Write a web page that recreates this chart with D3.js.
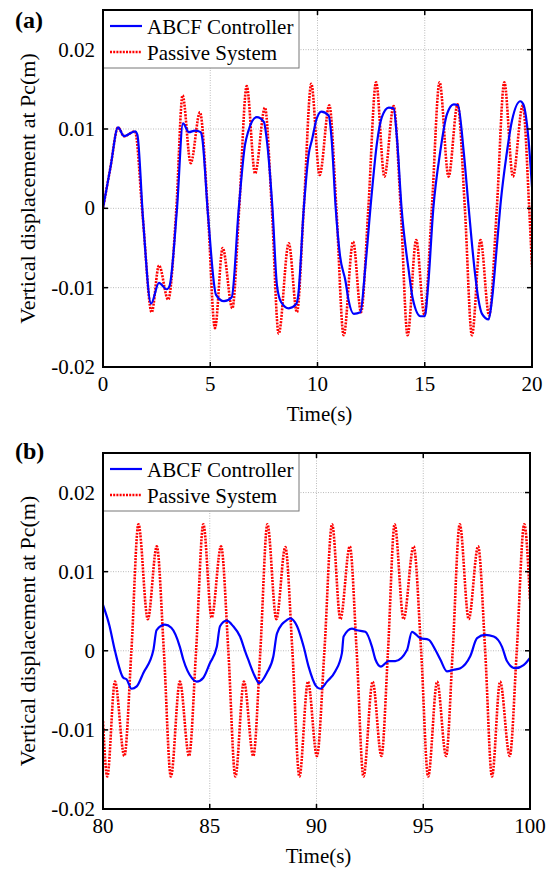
<!DOCTYPE html>
<html>
<head>
<meta charset="utf-8">
<script src="https://cdn.jsdelivr.net/npm/d3@7"></script>
<style>
  body { margin: 0; background: #fff; }
  svg { display: block; }
</style>
</head>
<body>
<svg id="chart"></svg>
<script>
// Values: [time (s), displacement (m)]
const passiveA = [
  [0, 0], [0.35, 0.0052], [0.7, 0.0102], [0.98, 0.0091], [1.49, 0.0097], [1.85, -0.001],
  [2.27, -0.0131], [2.61, -0.0072], [3.04, -0.0115], [3.42, 0], [3.71, 0.01425], [4.09, 0.0057],
  [4.52, 0.0121], [4.88, 0], [5.22, -0.0151], [5.58, -0.005], [6.03, -0.0126], [6.35, 0],
  [6.7, 0.0154], [7.09, 0.0044], [7.55, 0.0127], [7.87, 0], [8.19, -0.0158], [8.66, -0.0044],
  [9.04, -0.0131], [9.36, 0], [9.71, 0.0157], [10.1, 0.0042], [10.55, 0.013], [10.88, 0],
  [11.22, -0.016], [11.66, -0.0042], [12.03, -0.0131], [12.37, 0], [12.73, 0.0159], [13.12, 0.004],
  [13.55, 0.0129], [13.88, 0], [14.2, -0.016], [14.6, -0.004], [14.98, -0.0134], [15.33, 0],
  [15.69, 0.0159], [16.11, 0.004], [16.53, 0.0131], [16.87, 0], [17.2, -0.016], [17.6, -0.004],
  [18.0, -0.0135], [18.36, 0], [18.71, 0.0159], [19.11, 0.004], [19.57, 0.013], [19.87, 0],
  [20, -0.0074]
];

const abcfA = [
  [0, 0], [0.35, 0.0052], [0.7, 0.0102], [0.98, 0.0091], [1.49, 0.0097], [1.6, 0.0093],
  [1.87, -0.0015], [2.24, -0.012], [2.61, -0.0094], [2.97, -0.0102], [3.1, -0.0098], [3.45, 0],
  [3.73, 0.0107], [4.0, 0.0096], [4.3, 0.0098], [4.55, 0.0096], [4.62, 0.009], [4.9, -0.001],
  [5.27, -0.0109], [5.64, -0.0117], [6.0, -0.0112], [6.33, 0], [6.62, 0.008], [6.76, 0.0096],
  [7.17, 0.0115], [7.5, 0.0109], [7.62, 0.009], [7.9, 0], [8.11, -0.0097], [8.3, -0.0118],
  [8.66, -0.0126], [9.0, -0.0121], [9.1, -0.011], [9.36, 0], [9.6, 0.007], [9.74, 0.0086],
  [9.95, 0.0112], [10.18, 0.0122], [10.52, 0.0117], [10.65, 0.009], [10.85, 0], [11.05, -0.006],
  [11.3, -0.0091], [11.45, -0.0116], [11.69, -0.0133], [12.0, -0.0131], [12.23, -0.0074], [12.5, 0.001],
  [12.77, 0.0082], [13.0, 0.0115], [13.32, 0.0127], [13.55, 0.0126], [13.7, 0.009], [13.92, 0],
  [14.25, -0.0078], [14.45, -0.0115], [14.8, -0.0136], [15.0, -0.0136], [15.15, -0.01], [15.4, 0],
  [15.72, 0.0071], [16.04, 0.0119], [16.35, 0.0131], [16.55, 0.013], [16.81, 0.0073], [17.05, 0],
  [17.31, -0.0074], [17.51, -0.0116], [17.67, -0.0133], [17.98, -0.014], [18.13, -0.0116], [18.37, -0.0045],
  [18.55, 0.001], [18.8, 0.0065], [19.07, 0.0111], [19.46, 0.0135], [19.6, 0.0131], [19.84, 0.0086],
  [20, 0.0027]
];

const passiveB = [
  [80, -0.0089], [80.2, -0.0159], [80.56, -0.0039], [81.0, -0.0133], [81.33, 0], [81.66, 0.016],
  [82.1, 0.004], [82.52, 0.0132], [82.85, 0], [83.18, -0.0159], [83.6, -0.0039], [84.03, -0.0133],
  [84.36, 0], [84.7, 0.016], [85.09, 0.0042], [85.53, 0.0132], [85.87, 0], [86.2, -0.0159],
  [86.6, -0.0039], [87.04, -0.0133], [87.37, 0], [87.7, 0.016], [88.12, 0.004], [88.54, 0.0131],
  [88.87, 0], [89.2, -0.0159], [89.6, -0.0039], [90.02, -0.0133], [90.37, 0], [90.73, 0.016],
  [91.12, 0.004], [91.56, 0.0132], [91.88, 0], [92.2, -0.0159], [92.63, -0.0039], [93.04, -0.0133],
  [93.35, 0], [93.66, 0.016], [94.08, 0.004], [94.55, 0.0132], [94.9, 0], [95.23, -0.0159],
  [95.65, -0.0039], [96.07, -0.0133], [96.38, 0], [96.71, 0.016], [97.13, 0.004], [97.57, 0.0132],
  [97.9, 0], [98.22, -0.0159], [98.6, -0.0039], [99.05, -0.0133], [99.38, 0], [99.73, 0.016],
  [100, 0.0064]
];

const abcfB = [
  [80, 0.0058], [80.3, 0.0032], [80.56, 0], [80.95, -0.0034], [81.1, -0.0036], [81.34, -0.0048],
  [81.58, -0.0045], [81.89, -0.0028], [82.36, 0.0001], [82.51, 0.0026], [82.9, 0.0033], [83.2, 0.0029],
  [83.6, 0.0005], [83.76, -0.0011], [84.15, -0.0034], [84.39, -0.0039], [84.7, -0.0034], [85.0, -0.0016],
  [85.33, 0.0005], [85.48, 0.0031], [85.79, 0.0038], [86.1, 0.0031], [86.42, 0.0018], [86.65, 0],
  [86.8, -0.0011], [87.2, -0.0037], [87.3, -0.0041], [87.67, -0.0028], [87.98, -0.0007], [88.15, 0.0022],
  [88.62, 0.0039], [88.77, 0.0041], [89.09, 0.0031], [89.4, 0.0005], [89.63, -0.002], [89.99, -0.0045],
  [90.18, -0.0048], [90.49, -0.0039], [90.88, -0.0026], [91.19, -0.0003], [91.27, 0.0018], [91.66, 0.0028],
  [91.9, 0.0026], [92.29, 0.0024], [92.6, 0.0005], [92.76, -0.0011], [93.02, -0.002], [93.38, -0.0013],
  [93.69, -0.0013], [94.24, 0.0001], [94.47, 0.0024], [94.86, 0.0016], [95.25, 0.0014], [95.57, 0.0001],
  [95.8, -0.0011], [96.11, -0.0026], [96.43, -0.0024], [96.74, -0.0022], [97.2, -0.0007], [97.52, 0.0016],
  [97.9, 0.002], [98.3, 0.0018], [98.69, 0.0005], [98.92, -0.0013], [99.31, -0.0022], [99.7, -0.0018],
  [100, -0.0009]
];

const xTicksA = [0, 5, 10, 15, 20];
const xTicksB = [80, 85, 90, 95, 100];
const yTicks = [-0.02, -0.01, 0, 0.01, 0.02];
const legendLabels = ["ABCF Controller", "Passive System"];

const width = 554, height = 870;
const font = "'Liberation Serif', 'Times New Roman', serif";

const svg = d3.select("#chart")
  .attr("width", width)
  .attr("height", height)
  .style("font-family", font);

svg.append("rect").attr("width", width).attr("height", height).attr("fill", "#fff");

function drawPanel(p) {
  const x = d3.scaleLinear().domain(p.xDomain).range([p.left, p.right]);
  const y = d3.scaleLinear().domain([-0.02, 0.025]).range([p.bottom, p.top]);
  const g = svg.append("g");

  // clip for the curves
  g.append("clipPath").attr("id", "clip-" + p.id)
    .append("rect")
    .attr("x", p.left).attr("y", p.top)
    .attr("width", p.right - p.left).attr("height", p.bottom - p.top);

  // dotted grid
  g.selectAll(".gx").data(p.xTicks.slice(1, -1)).enter().append("line")
    .attr("x1", d => x(d)).attr("x2", d => x(d))
    .attr("y1", p.top).attr("y2", p.bottom)
    .attr("stroke", "#aaa").attr("stroke-width", 0.8).attr("stroke-dasharray", "1,1.5");
  g.selectAll(".gy").data(yTicks.slice(1)).enter().append("line")
    .attr("x1", p.left).attr("x2", p.right)
    .attr("y1", d => y(d)).attr("y2", d => y(d))
    .attr("stroke", "#aaa").attr("stroke-width", 0.8).attr("stroke-dasharray", "1,1.5");

  const line = d3.line()
    .x(d => x(d[0]))
    .y(d => y(d[1]))
    .curve(d3.curveMonotoneX);

  const curves = g.append("g").attr("clip-path", `url(#clip-${p.id})`);
  curves.append("path")
    .datum(p.passive)
    .attr("d", line)
    .attr("fill", "none")
    .attr("stroke", "#ff0000")
    .attr("stroke-width", 2.6)
    .attr("stroke-dasharray", "2,1.2");
  curves.append("path")
    .datum(p.abcf)
    .attr("d", line)
    .attr("fill", "none")
    .attr("stroke", "#0000ff")
    .attr("stroke-width", 2.2);

  // inward ticks on all four sides
  const tl = 5;
  p.xTicks.forEach(t => {
    g.append("line").attr("x1", x(t)).attr("x2", x(t)).attr("y1", p.bottom).attr("y2", p.bottom - tl)
      .attr("stroke", "#000").attr("stroke-width", 1.5);
    g.append("line").attr("x1", x(t)).attr("x2", x(t)).attr("y1", p.top).attr("y2", p.top + tl)
      .attr("stroke", "#000").attr("stroke-width", 1.5);
  });
  yTicks.forEach(t => {
    g.append("line").attr("x1", p.left).attr("x2", p.left + tl).attr("y1", y(t)).attr("y2", y(t))
      .attr("stroke", "#000").attr("stroke-width", 1.5);
    g.append("line").attr("x1", p.right).attr("x2", p.right - tl).attr("y1", y(t)).attr("y2", y(t))
      .attr("stroke", "#000").attr("stroke-width", 1.5);
  });

  // tick labels
  g.selectAll(".xl").data(p.xTicks).enter().append("text")
    .attr("x", d => x(d)).attr("y", p.bottom + 24)
    .attr("text-anchor", "middle")
    .style("font-size", "21px")
    .text(d => d);
  g.selectAll(".yl").data(yTicks).enter().append("text")
    .attr("x", p.left - 8).attr("y", d => y(d) + 7)
    .attr("text-anchor", "end")
    .style("font-size", "21px")
    .text(d => d === 0 ? "0" : String(d));

  // legend
  const lw = 196, lh = 58;
  const lg = g.append("g");
  lg.append("rect")
    .attr("x", p.left).attr("y", p.top)
    .attr("width", lw).attr("height", lh)
    .attr("fill", "#fff").attr("stroke", "#777").attr("stroke-width", 1);
  legendLabels.forEach((lab, i) => {
    const ly = p.top + 16 + i * 26;
    lg.append("line")
      .attr("x1", p.left + 7).attr("x2", p.left + 39)
      .attr("y1", ly).attr("y2", ly)
      .attr("stroke", i === 0 ? "#0000ff" : "#ff0000")
      .attr("stroke-width", i === 0 ? 2.2 : 2.6)
      .attr("stroke-dasharray", i === 0 ? null : "2,1.2");
    lg.append("text")
      .attr("x", p.left + 44).attr("y", ly + 8)
      .style("font-size", "21px")
      .text(lab);
  });

  // frame
  g.append("rect")
    .attr("x", p.left).attr("y", p.top)
    .attr("width", p.right - p.left).attr("height", p.bottom - p.top)
    .attr("fill", "none").attr("stroke", "#000").attr("stroke-width", 2);

  // axis titles
  g.append("text")
    .attr("x", (p.left + p.right) / 2 + 2).attr("y", p.bottom + 54)
    .attr("text-anchor", "middle")
    .style("font-size", "21px")
    .text("Time(s)");
  g.append("text")
    .attr("transform", `translate(35, ${(p.top + p.bottom) / 2}) rotate(-90)`)
    .attr("text-anchor", "middle")
    .style("font-size", "22px")
    .text("Vertical displacement at Pc(m)");

  // panel letter
  g.append("text")
    .attr("x", 15).attr("y", p.letterY)
    .style("font-size", "24px").style("font-weight", "bold")
    .text(p.letter);
}

drawPanel({
  id: "a", letter: "(a)", letterY: 28, xDomain: [0, 20], xTicks: xTicksA,
  left: 103, right: 532, top: 10, bottom: 367,
  passive: passiveA, abcf: abcfA
});
drawPanel({
  id: "b", letter: "(b)", letterY: 459, xDomain: [80, 100], xTicks: xTicksB,
  left: 103, right: 530, top: 453, bottom: 809,
  passive: passiveB, abcf: abcfB
});
</script>
</body>
</html>
